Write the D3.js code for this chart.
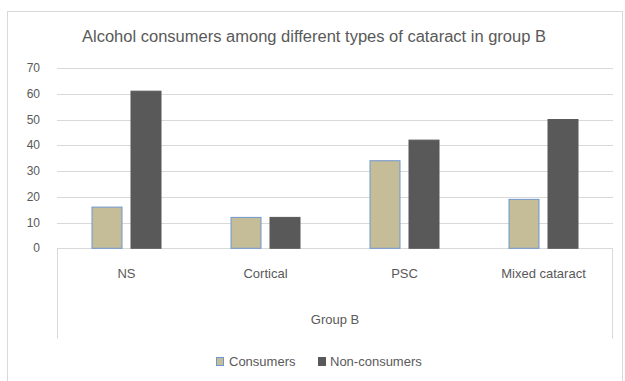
<!DOCTYPE html>
<html>
<head>
<meta charset="utf-8">
<script src="https://cdn.jsdelivr.net/npm/d3@7"></script>
<style>
  body { margin: 0; background: #fff; }
  svg { display: block; font-family: "Liberation Sans Narrow", "Liberation Sans", Arial, sans-serif; }
  .grid-line { stroke: #d9d9d9; stroke-width: 1; }
  .tick-label { fill: #595959; font-size: 12px; }
</style>
</head>
<body>
<svg id="chart" width="625" height="381" viewBox="0 0 625 381"></svg>
<script>
const categories = ["NS", "Cortical", "PSC", "Mixed cataract"];
const seriesNames = ["Consumers", "Non-consumers"];
const consumers = [16, 12, 34, 19];
const nonConsumers = [61, 12, 42, 50];
const yTicks = [0, 10, 20, 30, 40, 50, 60, 70];
const groupLabel = "Group B";
const titleText = "Alcohol consumers among different types of cataract in group B";

const COLORS = ["#c4bd97", "#595959"];
const STROKES = ["#6f97cf", "#595959"];

function renderChart(svg) {
  const root = d3.select(svg);
  const margin = { top: 68, right: 12, bottom: 133, left: 57 };
  const width = 625;
  const height = 381;
  const plotBottom = height - margin.bottom + 0.3;

  // outer chart border
  root.append("rect")
    .attr("x", 7.5).attr("y", 11.5)
    .attr("width", 615).attr("height", 380)
    .attr("fill", "#fff")
    .attr("stroke", "#d9d9d9");

  const xScale = d3.scaleBand()
    .domain(categories)
    .range([margin.left, width - margin.right])
    .padding(0);

  const xInner = d3.scaleBand()
    .domain(seriesNames)
    .range([0, 70])
    .paddingInner(8 / 39)
    .paddingOuter(0);

  const yScale = d3.scaleLinear()
    .domain([0, 70])
    .range([plotBottom, margin.top]);

  root.append("g")
    .selectAll("line")
    .data(yTicks)
    .join("line")
    .attr("class", "grid-line")
    .attr("x1", margin.left)
    .attr("x2", width - margin.right)
    .attr("y1", tick => Math.round(yScale(tick)) + 0.5)
    .attr("y2", tick => Math.round(yScale(tick)) + 0.5);

  root.append("g")
    .selectAll("text")
    .data(yTicks)
    .join("text")
    .attr("class", "tick-label")
    .attr("x", 40)
    .attr("y", tick => yScale(tick) + 4)
    .attr("text-anchor", "end")
    .text(tick => tick);

  // category box below the axis
  const boxBottom = 338.5;
  root.append("path")
    .attr("d", `M${margin.left + 0.5},${boxBottom} V${Math.round(plotBottom) + 0.5} H${width - margin.right - 0.5} V${boxBottom}`)
    .attr("fill", "none")
    .attr("stroke", "#d9d9d9");

  const offset = (xScale.bandwidth() - 70) / 2;
  const rows = categories.map((category, index) => ({
    category,
    values: [consumers[index], nonConsumers[index]]
  }));

  const groups = root.append("g")
    .selectAll("g")
    .data(rows)
    .join("g")
    .attr("transform", row => `translate(${xScale(row.category) + offset},0)`);

  groups.selectAll("rect")
    .data(row => row.values.map((value, index) => ({ series: seriesNames[index], index, value })))
    .join("rect")
    .attr("x", item => xInner(item.series) + 0.5)
    .attr("y", item => yScale(item.value))
    .attr("width", xInner.bandwidth() - 1)
    .attr("height", item => plotBottom - yScale(item.value))
    .attr("fill", item => COLORS[item.index])
    .attr("stroke", item => STROKES[item.index])
    .attr("stroke-width", 1);

  root.append("g")
    .selectAll("text")
    .data(categories)
    .join("text")
    .attr("x", category => xScale(category) + xScale.bandwidth() / 2)
    .attr("y", 278)
    .attr("text-anchor", "middle")
    .attr("fill", "#595959")
    .attr("font-size", 13)
    .text(category => category);

  root.append("text")
    .attr("x", (margin.left + width - margin.right) / 2)
    .attr("y", 324)
    .attr("text-anchor", "middle")
    .attr("fill", "#595959")
    .attr("font-size", 13)
    .text(groupLabel);

  root.append("text")
    .attr("x", 314)
    .attr("y", 42)
    .attr("text-anchor", "middle")
    .attr("fill", "#595959")
    .attr("font-size", 16)
    .attr("textLength", 464)
    .attr("lengthAdjust", "spacingAndGlyphs")
    .text(titleText);

  // legend
  const legendItems = [
    { name: seriesNames[0], x: 216, textX: 229 },
    { name: seriesNames[1], x: 318, textX: 330 }
  ];
  const legend = root.append("g");
  legend.selectAll("rect")
    .data(legendItems)
    .join("rect")
    .attr("x", item => item.x + 0.5)
    .attr("y", 357.5)
    .attr("width", 7)
    .attr("height", 8)
    .attr("fill", (_item, index) => COLORS[index])
    .attr("stroke", (_item, index) => STROKES[index]);
  legend.selectAll("text")
    .data(legendItems)
    .join("text")
    .attr("x", item => item.textX)
    .attr("y", 366)
    .attr("fill", "#595959")
    .attr("font-size", 13)
    .text(item => item.name);
}

renderChart(document.getElementById("chart"));
</script>
</body>
</html>
